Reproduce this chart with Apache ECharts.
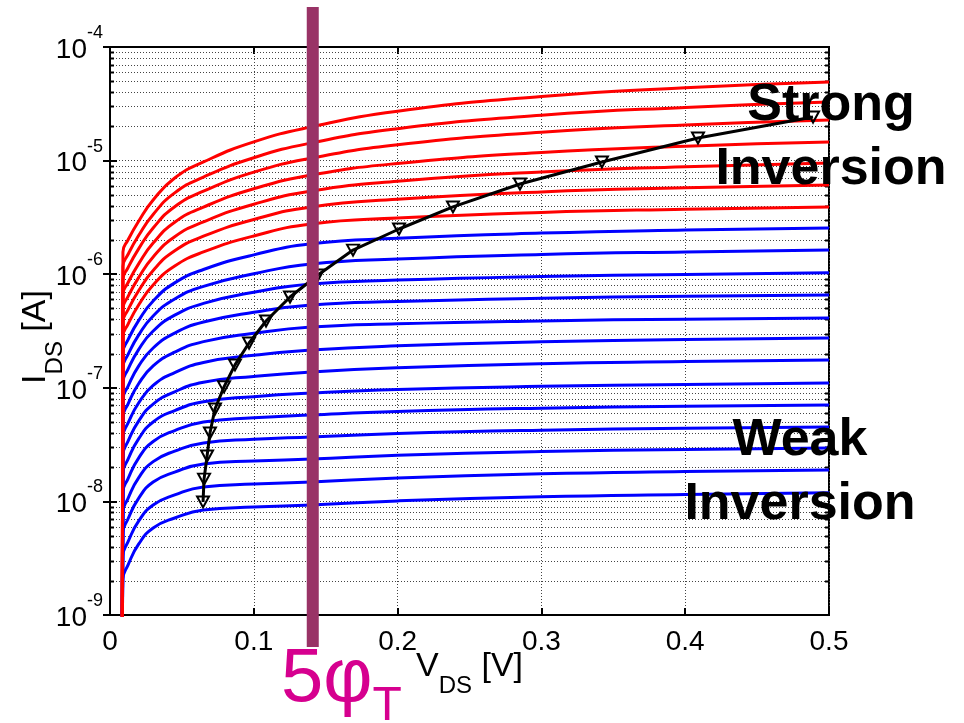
<!DOCTYPE html>
<html>
<head>
<meta charset="utf-8">
<title>IDS - VDS</title>
<script src="https://cdn.jsdelivr.net/npm/echarts@6/dist/echarts.min.js"></script>
<style>
  html, body { margin: 0; padding: 0; background: #fff; }
  #chart { width: 964px; height: 723px; }
</style>
</head>
<body>
<div id="chart"></div>
<script>
// VDS sample points [V]; the first one is where each trace drops below the axis
const vds = [0.0085, 0.009, 0.0125, 0.02, 0.03, 0.045, 0.065, 0.1, 0.14, 0.2, 0.3, 0.4, 0.5];

// strong inversion traces (red), IDS [A], top to bottom
const idsStrong = [
  [5e-10, 1.57e-6, 2.00e-6, 2.94e-6, 4.50e-6, 7.03e-6, 9.73e-6, 1.46e-5, 1.98e-5, 2.72e-5, 3.67e-5, 4.38e-5, 4.92e-5],
  [5e-10, 1.17e-6, 1.49e-6, 2.20e-6, 3.36e-6, 5.20e-6, 7.16e-6, 1.06e-5, 1.43e-5, 1.91e-5, 2.51e-5, 2.94e-5, 3.28e-5],
  [5e-10, 8.91e-7, 1.14e-6, 1.68e-6, 2.55e-6, 3.93e-6, 5.38e-6, 7.91e-6, 1.05e-5, 1.38e-5, 1.78e-5, 2.06e-5, 2.28e-5],
  [5e-10, 6.58e-7, 8.41e-7, 1.24e-6, 1.88e-6, 2.87e-6, 3.90e-6, 5.65e-6, 7.46e-6, 9.44e-6, 1.18e-5, 1.34e-5, 1.46e-5],
  [5e-10, 4.94e-7, 6.34e-7, 9.38e-7, 1.42e-6, 2.14e-6, 2.89e-6, 4.13e-6, 5.40e-6, 6.58e-6, 7.94e-6, 8.84e-6, 9.53e-6],
  [5e-10, 3.78e-7, 4.85e-7, 7.18e-7, 1.08e-6, 1.61e-6, 2.16e-6, 3.03e-6, 3.91e-6, 4.57e-6, 5.30e-6, 5.76e-6, 6.10e-6],
  [5e-10, 2.81e-7, 3.62e-7, 5.38e-7, 8.04e-7, 1.18e-6, 1.57e-6, 2.17e-6, 2.77e-6, 3.12e-6, 3.50e-6, 3.73e-6, 3.91e-6]
];

// weak / moderate inversion traces (blue), IDS [A], top to bottom
const idsWeak = [
  [5e-10, 2.04e-7, 2.64e-7, 3.92e-7, 5.81e-7, 8.39e-7, 1.10e-6, 1.48e-6, 1.85e-6, 2.07e-6, 2.30e-6, 2.45e-6, 2.55e-6],
  [5e-10, 1.51e-7, 1.96e-7, 2.92e-7, 4.29e-7, 6.05e-7, 7.82e-7, 1.01e-6, 1.23e-6, 1.36e-6, 1.49e-6, 1.57e-6, 1.63e-6],
  [5e-10, 1.11e-7, 1.45e-7, 2.18e-7, 3.16e-7, 4.36e-7, 5.53e-7, 6.95e-7, 8.20e-7, 8.87e-7, 9.55e-7, 9.95e-7, 1.03e-6],
  [5e-10, 7.91e-8, 1.03e-7, 1.56e-7, 2.24e-7, 3.03e-7, 3.79e-7, 4.63e-7, 5.36e-7, 5.75e-7, 6.15e-7, 6.40e-7, 6.56e-7],
  [5e-10, 5.50e-8, 7.19e-8, 1.09e-7, 1.56e-7, 2.06e-7, 2.55e-7, 3.02e-7, 3.43e-7, 3.66e-7, 3.88e-7, 4.02e-7, 4.11e-7],
  [5e-10, 3.71e-8, 4.88e-8, 7.38e-8, 1.05e-7, 1.36e-7, 1.67e-7, 1.93e-7, 2.15e-7, 2.34e-7, 2.54e-7, 2.66e-7, 2.74e-7],
  [5e-10, 2.55e-8, 3.37e-8, 5.12e-8, 7.19e-8, 9.23e-8, 1.12e-7, 1.26e-7, 1.38e-7, 1.50e-7, 1.63e-7, 1.70e-7, 1.76e-7],
  [5e-10, 1.77e-8, 2.34e-8, 3.57e-8, 5.00e-8, 6.30e-8, 7.55e-8, 8.36e-8, 8.99e-8, 9.66e-8, 1.03e-7, 1.07e-7, 1.10e-7],
  [5e-10, 1.20e-8, 1.58e-8, 2.42e-8, 3.37e-8, 4.20e-8, 4.99e-8, 5.44e-8, 5.77e-8, 6.19e-8, 6.62e-8, 6.89e-8, 7.06e-8],
  [5e-10, 7.98e-9, 1.06e-8, 1.62e-8, 2.24e-8, 2.77e-8, 3.27e-8, 3.52e-8, 3.69e-8, 3.96e-8, 4.24e-8, 4.41e-8, 4.52e-8],
  [5e-10, 5.27e-9, 7.00e-9, 1.07e-8, 1.48e-8, 1.81e-8, 2.13e-8, 2.27e-8, 2.36e-8, 2.55e-8, 2.75e-8, 2.86e-8, 2.95e-8],
  [5e-10, 3.31e-9, 4.40e-9, 6.73e-9, 9.30e-9, 1.14e-8, 1.34e-8, 1.42e-8, 1.48e-8, 1.61e-8, 1.75e-8, 1.83e-8, 1.89e-8],
  [5e-10, 2.07e-9, 2.75e-9, 4.22e-9, 5.83e-9, 7.14e-9, 8.39e-9, 8.92e-9, 9.29e-9, 1.01e-8, 1.10e-8, 1.15e-8, 1.19e-8]
];

// saturation locus (black line with triangles)
const satV = [0.0647, 0.0654, 0.0675, 0.0695, 0.0730, 0.0793, 0.0869, 0.0967, 0.1085, 0.1252,
              0.1446, 0.1690, 0.2010, 0.2385, 0.2851, 0.3421, 0.4089, 0.4889];
const satI = [9.89e-9, 1.57e-8, 2.51e-8, 4.00e-8, 6.50e-8, 1.02e-7, 1.59e-7, 2.48e-7, 3.87e-7, 6.30e-7,
              9.84e-7, 1.63e-6, 2.50e-6, 3.91e-6, 6.22e-6, 9.73e-6, 1.58e-5, 2.42e-5];

// 5 phiT marker position [V]
const phiTLine = [0.141];

// log grid: decades and the minor steps inside them
const decades = [1e-9, 1e-8, 1e-7, 1e-6, 1e-5];
const minorSteps = [2, 3, 4, 5, 6, 7, 8, 9];
const minorLevels = [];
decades.forEach(d => minorSteps.forEach(m => minorLevels.push([0, m * d])));

const FONT = '"Liberation Sans", Arial, Helvetica, sans-serif';

const chart = echarts.init(document.getElementById('chart'));

function traceSeries(list, color) {
  return list.map(ids => ({
    type: 'line',
    data: vds.map((v, i) => [v, ids[i]]),
    showSymbol: false,
    smooth: 0.5,
    silent: true,
    lineStyle: { color: color, width: 3 },
    z: 3
  }));
}

// shared rich styles for "X_sub [unit]" axis titles
const nameRich = {
  m: { fontSize: 34, fontFamily: FONT, color: '#000', verticalAlign: 'bottom', padding: [0, 0, 14, 0] },
  s: { fontSize: 24, fontFamily: FONT, color: '#000', verticalAlign: 'bottom' }
};

const option = {
  animation: false,
  backgroundColor: '#fff',
  grid: {
    left: 110, right: 135, top: 47, bottom: 108,
    show: true, borderColor: '#000', borderWidth: 2,
    outerBoundsMode: 'none'
  },
  xAxis: [
    {
      type: 'value', min: 0, max: 0.5, interval: 0.1, position: 'bottom',
      name: '{m|V}{s|DS}{m| [V]}',
      nameLocation: 'middle',
      nameGap: 35,
      nameMoveOverlap: false,
      nameTextStyle: { rich: nameRich },
      axisLine: { lineStyle: { color: '#000', width: 2 } },
      axisTick: { inside: true, length: 7, lineStyle: { color: '#000', width: 2 } },
      axisLabel: { fontSize: 28, fontFamily: FONT, color: '#000', margin: 13 },
      splitLine: { show: true, lineStyle: { color: '#444', width: 1, type: [1, 2] } }
    },
    {
      type: 'value', min: 0, max: 0.5, interval: 0.1, position: 'top',
      axisLine: { lineStyle: { color: '#000', width: 2 } },
      axisTick: { inside: true, length: 7, lineStyle: { color: '#000', width: 2 } },
      axisLabel: { show: false },
      splitLine: { show: false }
    }
  ],
  yAxis: [
    {
      type: 'log', logBase: 10, min: 1e-9, max: 1e-4, position: 'left',
      name: '{m|I}{s|DS}{m| [A]}',
      nameLocation: 'middle',
      nameGap: 43,
      nameMoveOverlap: false,
      nameTextStyle: { padding: [0, 12, 0, 0], rich: nameRich },
      axisLine: { lineStyle: { color: '#000', width: 2 } },
      axisTick: { inside: true, length: 7, lineStyle: { color: '#000', width: 2 } },
      axisLabel: {
        margin: 7,
        padding: [0, 0, 6, 0],
        formatter: v => '{b|10}{e|' + Math.round(Math.log10(v)) + '}',
        rich: {
          b: { fontSize: 28, fontFamily: FONT, color: '#000', verticalAlign: 'bottom' },
          e: { fontSize: 18, fontFamily: FONT, color: '#000', verticalAlign: 'bottom', padding: [0, 0, 22, 0] }
        }
      },
      splitLine: { show: true, lineStyle: { color: '#444', width: 1, type: [1, 2] } }
    },
    {
      type: 'log', logBase: 10, min: 1e-9, max: 1e-4, position: 'right',
      axisLine: { lineStyle: { color: '#000', width: 2 } },
      axisTick: { inside: true, length: 7, lineStyle: { color: '#000', width: 2 } },
      axisLabel: { show: false },
      splitLine: { show: false }
    }
  ],
  series: [
    // minor log grid lines and ticks
    {
      type: 'custom',
      data: minorLevels,
      encode: { x: 0, y: 1 },
      silent: true,
      z: 1,
      renderItem: function (params, api) {
        const cs = params.coordSys;
        const y = Math.round(api.coord([0, api.value(1)])[1]) + 0.5;
        return {
          type: 'group',
          children: [
            { type: 'line', shape: { x1: cs.x, y1: y, x2: cs.x + cs.width, y2: y },
              style: { stroke: '#444', lineWidth: 1, lineDash: [1, 2] } },
            { type: 'line', shape: { x1: cs.x, y1: y, x2: cs.x + 4, y2: y },
              style: { stroke: '#000', lineWidth: 2 } },
            { type: 'line', shape: { x1: cs.x + cs.width - 4, y1: y, x2: cs.x + cs.width, y2: y },
              style: { stroke: '#000', lineWidth: 2 } }
          ]
        };
      }
    },
    ...traceSeries(idsWeak, '#0000ff'),
    ...traceSeries(idsStrong, '#ff0000'),
    {
      type: 'line',
      data: satV.map((v, i) => [v, satI[i]]),
      symbol: 'triangle',
      symbolRotate: 180,
      symbolSize: [12, 11],
      showAllSymbol: true,
      silent: true,
      lineStyle: { color: '#000', width: 3 },
      itemStyle: { color: 'rgba(255,255,255,0)', borderColor: '#000', borderWidth: 2 },
      z: 4
    },
    // 5 phiT vertical bar, running past the plot frame
    {
      type: 'custom',
      data: phiTLine.map(v => [v, 1e-4]),
      encode: { x: 0, y: 1 },
      clip: false,
      silent: true,
      z: 6,
      renderItem: function (params, api) {
        const top = api.coord([api.value(0), 1e-4]);
        const bot = api.coord([api.value(0), 1e-9]);
        return {
          type: 'rect',
          shape: { x: top[0] - 6, y: top[1] - 40, width: 12, height: bot[1] - top[1] + 72 },
          style: { fill: '#993366' }
        };
      }
    }
  ],
  graphic: [
    {
      type: 'text', x: 831, y: 138, z: 100,
      style: { text: 'Strong\nInversion', font: 'bold 52px ' + FONT, fill: '#000',
               align: 'center', verticalAlign: 'middle', lineHeight: 64 }
    },
    {
      type: 'text', x: 800, y: 473, z: 100,
      style: { text: 'Weak\nInversion', font: 'bold 52px ' + FONT, fill: '#000',
               align: 'center', verticalAlign: 'middle', lineHeight: 64 }
    },
    {
      type: 'text', x: 281, y: 642, z: 100,
      style: {
        text: '{a|5φ}{b|T}',
        align: 'left', verticalAlign: 'top',
        rich: {
          a: { fontSize: 76, fontFamily: FONT, fill: '#d6008f', verticalAlign: 'bottom', padding: [0, 0, 13, 0] },
          b: { fontSize: 48, fontFamily: FONT, fill: '#d6008f', verticalAlign: 'bottom' }
        }
      }
    }
  ]
};

chart.setOption(option);
</script>
</body>
</html>
